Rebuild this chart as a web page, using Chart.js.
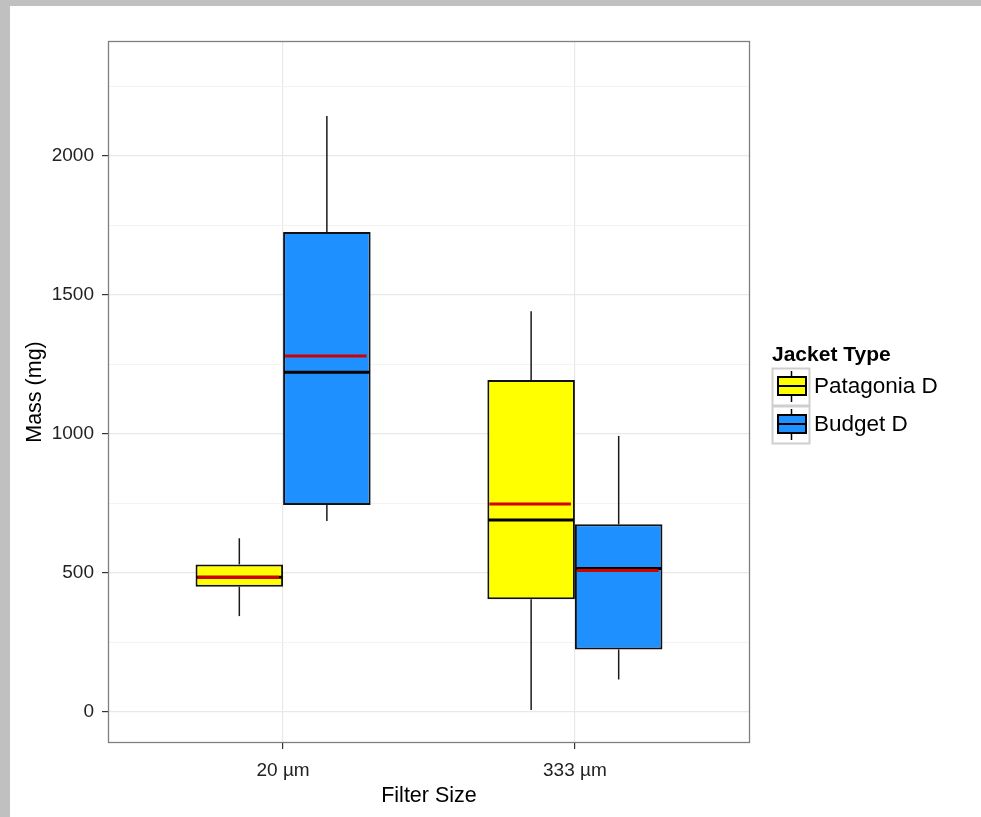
<!DOCTYPE html>
<html>
<head>
<meta charset="utf-8">
<script src="https://cdn.jsdelivr.net/npm/chart.js@4.4.1/dist/chart.umd.min.js"></script>
<style>
  html, body { margin: 0; padding: 0; }
  body { background: #c0c0c0; width: 981px; height: 817px; overflow: hidden; position: relative; }
  #frame { position: absolute; left: 10px; top: 6px; width: 971px; height: 811px; background: #fff; }
</style>
</head>
<body>
<div id="frame"><canvas id="box" width="971" height="811"></canvas></div>
<script>
const categories = ['20 µm', '333 µm'];
const jackets = ['Patagonia D', 'Budget D'];
const jacketColors = ['#ffff00', '#1e90ff'];

// box stats per filter size (mg)
const patagoniaMin = [345, 7];
const patagoniaQ1 = [451, 406];
const patagoniaMedian = [485, 691];
const patagoniaMean = [485, 748];
const patagoniaQ3 = [531, 1194];
const patagoniaMax = [625, 1442];

const budgetMin = [687, 117];
const budgetQ1 = [745, 225];
const budgetMedian = [1222, 516];
const budgetMean = [1281, 509];
const budgetQ3 = [1727, 675];
const budgetMax = [2144, 993];

const yMajorTicks = [0, 500, 1000, 1500, 2000];
const yMinorTicks = [250, 750, 1250, 1750, 2250];

const FONT = '"Liberation Sans", Arial, sans-serif';

const stats = [
  { min: patagoniaMin, q1: patagoniaQ1, median: patagoniaMedian, mean: patagoniaMean, q3: patagoniaQ3, max: patagoniaMax },
  { min: budgetMin, q1: budgetQ1, median: budgetMedian, mean: budgetMean, q3: budgetQ3, max: budgetMax }
];

function boxData(s) {
  return categories.map((c, i) => ({ x: i + 1, y: [s.q1[i], s.q3[i]] }));
}

function hline(ctx, x1, x2, y) {
  ctx.beginPath(); ctx.moveTo(x1, y); ctx.lineTo(x2, y); ctx.stroke();
}
function vline(ctx, x, y1, y2) {
  ctx.beginPath(); ctx.moveTo(x, y1); ctx.lineTo(x, y2); ctx.stroke();
}

// whiskers, medians (black) and means (red)
const boxExtras = {
  id: 'boxExtras',
  afterDatasetsDraw(chart) {
    const ctx = chart.ctx;
    const y = chart.scales.y;
    ctx.save();
    stats.forEach((s, d) => {
      const meta = chart.getDatasetMeta(d);
      meta.data.forEach((el, i) => {
        const { x, width } = el.getProps(['x', 'width'], true);
        const left = x - width / 2, right = x + width / 2;
        ctx.strokeStyle = '#1a1a1a';
        ctx.lineWidth = 1.5;
        vline(ctx, x, y.getPixelForValue(s.q3[i]), y.getPixelForValue(s.max[i]));
        vline(ctx, x, y.getPixelForValue(s.q1[i]), y.getPixelForValue(s.min[i]));
        ctx.strokeStyle = '#000';
        ctx.lineWidth = 3;
        hline(ctx, left + 1, right - 1, y.getPixelForValue(s.median[i]));
        ctx.strokeStyle = '#d40000';
        hline(ctx, left + 2, right - 4, y.getPixelForValue(s.mean[i]));
      });
    });
    ctx.restore();
  }
};

// panel border + legend at the right of the panel
const panelAndLegend = {
  id: 'panelAndLegend',
  afterDraw(chart) {
    const ctx = chart.ctx;
    const a = chart.chartArea;
    ctx.save();
    ctx.strokeStyle = '#7f7f7f';
    ctx.lineWidth = 1.3;
    ctx.strokeRect(a.left + 0.5, a.top + 0.5, a.right - a.left - 1, a.bottom - a.top - 1);

    const x0 = a.right + 22;
    const mid = (a.top + a.bottom) / 2;
    ctx.fillStyle = '#000';
    ctx.textAlign = 'left';
    ctx.textBaseline = 'middle';
    ctx.font = 'bold 21px ' + FONT;
    ctx.fillText('Jacket Type', x0, mid - 37);

    chart.data.datasets.forEach((ds, i) => {
      const top = mid - 24 + i * 38;
      ctx.strokeStyle = '#cfcfcf';
      ctx.lineWidth = 2;
      ctx.strokeRect(x0 + 0.5, top + 0.5, 37, 37);
      const cx = x0 + 19.5;
      ctx.strokeStyle = '#000';
      ctx.lineWidth = 1.5;
      vline(ctx, cx, top + 3, top + 34);
      ctx.fillStyle = ds.backgroundColor;
      ctx.fillRect(x0 + 6, top + 9, 28, 18);
      ctx.lineWidth = 2;
      ctx.strokeRect(x0 + 6, top + 9, 28, 18);
      hline(ctx, x0 + 6, x0 + 34, top + 18);
      ctx.fillStyle = '#000';
      ctx.font = '22.5px ' + FONT;
      ctx.fillText(ds.label, x0 + 42, top + 19);
    });
    ctx.restore();
  }
};

new Chart(document.getElementById('box'), {
  type: 'bar',
  data: {
    datasets: jackets.map((name, d) => ({
      label: name,
      data: boxData(stats[d]),
      backgroundColor: jacketColors[d],
      borderColor: '#111',
      borderWidth: 2,
      borderSkipped: false,
      categoryPercentage: 0.6,
      barPercentage: 1
    }))
  },
  options: {
    responsive: false,
    animation: false,
    layout: { padding: { left: 0, top: 35, right: 231, bottom: 0 } },
    plugins: { legend: { display: false }, tooltip: { enabled: false } },
    scales: {
      x: {
        type: 'linear',
        min: 0.4,
        max: 2.6,
        offset: false,
        afterBuildTicks: (s) => { s.ticks = categories.map((c, i) => ({ value: i + 1 })); },
        afterFit: (s) => { s.height = 74; },
        grid: { offset: false, color: '#e8e8e8', lineWidth: 1.2, tickColor: '#333', tickLength: 6 },
        border: { display: false },
        ticks: {
          autoSkip: false,
          maxRotation: 0,
          padding: 10,
          color: '#222',
          font: { family: FONT, size: 19 },
          callback: (v) => categories[v - 1]
        },
        title: {
          display: true,
          text: 'Filter Size',
          color: '#000',
          font: { family: FONT, size: 21.5 },
          padding: { top: 0, bottom: 8 }
        }
      },
      y: {
        min: -111.5,
        max: 2413.7,
        afterBuildTicks: (s) => {
          s.ticks = yMajorTicks.concat(yMinorTicks).sort((p, q) => p - q).map(v => ({ value: v }));
        },
        afterFit: (s) => { s.width = 98; },
        grid: {
          lineWidth: (c) => yMinorTicks.includes(c.tick.value) ? 1 : 1.2,
          color: (c) => yMinorTicks.includes(c.tick.value) ? '#f3f3f3' : '#e8e8e8',
          tickColor: (c) => yMinorTicks.includes(c.tick.value) ? 'rgba(0,0,0,0)' : '#333',
          tickLength: 6
        },
        border: { display: false },
        ticks: {
          autoSkip: false,
          padding: 8,
          color: '#222',
          font: { family: FONT, size: 19 },
          callback: (v) => yMajorTicks.includes(v) ? String(v) : ''
        },
        title: {
          display: true,
          text: 'Mass (mg)',
          color: '#000',
          font: { family: FONT, size: 21.5 },
          padding: { top: 12, bottom: 0 }
        }
      }
    }
  },
  plugins: [boxExtras, panelAndLegend]
});
</script>
</body>
</html>
